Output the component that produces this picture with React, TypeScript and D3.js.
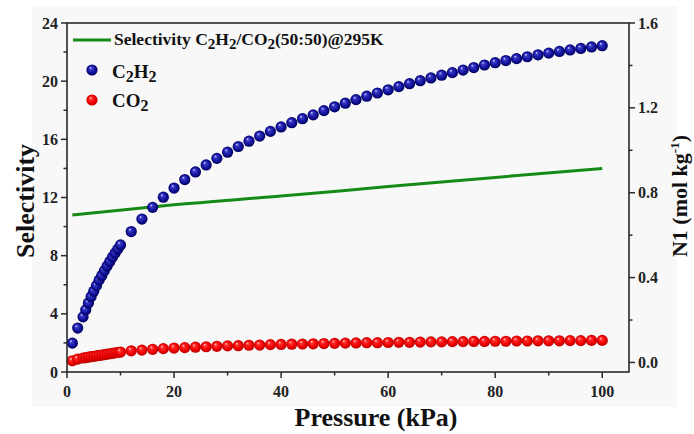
import React from "react";
import * as d3 from "d3";

const pressure = [1, 2, 3, 3.5, 4, 4.5, 5, 5.5, 6, 6.5, 7, 7.5, 8, 8.5, 9, 9.5, 10,
  12, 14, 16, 18, 20, 22, 24, 26, 28, 30, 32, 34, 36, 38, 40, 42, 44, 46, 48, 50,
  52, 54, 56, 58, 60, 62, 64, 66, 68, 70, 72, 74, 76, 78, 80, 82, 84, 86, 88, 90,
  92, 94, 96, 98, 100];

const c2h2 = [0.091, 0.162, 0.215, 0.248, 0.28, 0.31, 0.336, 0.362, 0.388, 0.41, 0.433, 0.455, 0.476, 0.497, 0.516, 0.535, 0.554,
  0.617, 0.676, 0.731, 0.779, 0.822, 0.862, 0.898, 0.931, 0.962, 0.991, 1.018, 1.043, 1.067, 1.089, 1.11, 1.13, 1.149, 1.167, 1.187, 1.205,
  1.222, 1.239, 1.255, 1.27, 1.285, 1.3, 1.314, 1.328, 1.341, 1.354, 1.366, 1.378, 1.39, 1.402, 1.413, 1.423, 1.432, 1.441, 1.45, 1.458,
  1.466, 1.473, 1.48, 1.487, 1.493];

const co2 = [0.008, 0.016, 0.021, 0.023, 0.025, 0.027, 0.029, 0.031, 0.033, 0.035, 0.037, 0.039, 0.041, 0.043, 0.045, 0.047, 0.049,
  0.055, 0.058, 0.062, 0.065, 0.068, 0.07, 0.072, 0.074, 0.076, 0.078, 0.079, 0.081, 0.082, 0.084, 0.085, 0.086, 0.087, 0.088, 0.089, 0.09,
  0.091, 0.092, 0.093, 0.093, 0.094, 0.095, 0.095, 0.096, 0.097, 0.097, 0.098, 0.098, 0.099, 0.099, 0.1, 0.1, 0.101, 0.101, 0.102, 0.102,
  0.102, 0.103, 0.103, 0.104, 0.104];

const selPressure = [1, 20, 40, 60, 80, 100];
const selectivity = [10.8, 11.5, 12.1, 12.75, 13.38, 14.0];

const xTicks = [0, 20, 40, 60, 80, 100];
const xMinor = [10, 30, 50, 70, 90];
const yLeftTicks = [0, 4, 8, 12, 16, 20, 24];
const yLeftMinor = [2, 6, 10, 14, 18, 22];
const yRightTicks = [0, 0.4, 0.8, 1.2, 1.6];
const yRightMinor = [0.2, 0.6, 1.0, 1.4];

const FONT = "'Liberation Serif', 'Times New Roman', serif";

export default function App() {
  const W = 694, H = 434;
  const left = 67, right = 629, top = 23, bottom = 372;
  const x = d3.scaleLinear().domain([0, 105]).range([left, right]);
  const yL = d3.scaleLinear().domain([0, 24]).range([bottom, top]);
  const yR = d3.scaleLinear().domain([-0.045, 1.6]).range([bottom, top]);

  const selLine = d3.line<number>()
    .x((_, i) => x(selPressure[i]))
    .y((d) => yL(d))
    .curve(d3.curveMonotoneX)(selectivity);

  const r = 5.6;
  const axisColor = "#2a2a2a";

  return (
    <svg width={W} height={H} style={{ position: "absolute", left: 0, top: 0 }} fontFamily={FONT}>
      <defs>
        <radialGradient id="gBlue" cx="50%" cy="50%" r="50%" fx="35%" fy="30%">
          <stop offset="0%" stopColor="#e0e0ff" />
          <stop offset="25%" stopColor="#3a3ac8" />
          <stop offset="70%" stopColor="#10109a" />
          <stop offset="100%" stopColor="#000058" />
        </radialGradient>
        <radialGradient id="gRed" cx="50%" cy="50%" r="50%" fx="35%" fy="30%">
          <stop offset="0%" stopColor="#ffe0e0" />
          <stop offset="25%" stopColor="#ff3030" />
          <stop offset="70%" stopColor="#f00000" />
          <stop offset="100%" stopColor="#b80000" />
        </radialGradient>
      </defs>
      <rect x={0} y={0} width={W} height={H} fill="#ffffff" />
      <rect x={32} y={6} width={645} height={401} fill="#f8f8f8" />

      {/* green selectivity line */}
      <path d={selLine || ""} fill="none" stroke="#168a16" strokeWidth={3} />

      {/* C2H2 points */}
      {pressure.map((p, i) => (
        <circle key={"b" + i} cx={x(p)} cy={yR(c2h2[i])} r={r} fill="url(#gBlue)" />
      ))}
      {/* CO2 points */}
      {pressure.map((p, i) => (
        <circle key={"r" + i} cx={x(p)} cy={yR(co2[i])} r={r} fill="url(#gRed)" />
      ))}

      {/* frame */}
      <rect x={left} y={top} width={right - left} height={bottom - top} fill="none" stroke={axisColor} strokeWidth={1.6} />

      {/* x ticks */}
      {xTicks.map((t) => (
        <g key={"xt" + t}>
          <line x1={x(t)} x2={x(t)} y1={bottom} y2={bottom + 6} stroke={axisColor} strokeWidth={1.5} />
          <text x={x(t)} y={397} textAnchor="middle" fontSize={16} fontWeight="bold" fill="#222">{t}</text>
        </g>
      ))}
      {xMinor.map((t) => (
        <line key={"xm" + t} x1={x(t)} x2={x(t)} y1={bottom} y2={bottom + 3.5} stroke={axisColor} strokeWidth={1.5} />
      ))}

      {/* left ticks */}
      {yLeftTicks.map((t) => (
        <g key={"yl" + t}>
          <line x1={left - 6} x2={left} y1={yL(t)} y2={yL(t)} stroke={axisColor} strokeWidth={1.5} />
          <text x={left - 9} y={yL(t) + 5.5} textAnchor="end" fontSize={16} fontWeight="bold" fill="#222">{t}</text>
        </g>
      ))}
      {yLeftMinor.map((t) => (
        <line key={"ylm" + t} x1={left - 3.5} x2={left} y1={yL(t)} y2={yL(t)} stroke={axisColor} strokeWidth={1.5} />
      ))}

      {/* right ticks */}
      {yRightTicks.map((t) => (
        <g key={"yr" + t}>
          <line x1={right} x2={right + 6} y1={yR(t)} y2={yR(t)} stroke={axisColor} strokeWidth={1.5} />
          <text x={right + 9} y={yR(t) + 5.5} textAnchor="start" fontSize={16} fontWeight="bold" fill="#222">{t.toFixed(1)}</text>
        </g>
      ))}
      {yRightMinor.map((t) => (
        <line key={"yrm" + t} x1={right} x2={right + 3.5} y1={yR(t)} y2={yR(t)} stroke={axisColor} strokeWidth={1.5} />
      ))}

      {/* axis titles */}
      <text x={376} y={426} textAnchor="middle" fontSize={26} fontWeight="bold" fill="#111">Pressure (kPa)</text>
      <text transform={`translate(34, 201) rotate(-90)`} textAnchor="middle" fontSize={26} fontWeight="bold" fill="#111">Selectivity</text>
      <text transform={`translate(687, 196) rotate(-90)`} textAnchor="middle" fontSize={22} fontWeight="bold" fill="#111">
        N1 (mol kg<tspan dy={-8} fontSize={13}>-1</tspan><tspan dy={8}>)</tspan>
      </text>

      {/* legend */}
      <line x1={73} x2={111} y1={40} y2={40} stroke="#168a16" strokeWidth={3} />
      <text x={114} y={45} fontSize={17.5} fontWeight="bold" fill="#111">
        Selectivity C<tspan dy={4} fontSize={15}>2</tspan><tspan dy={-4}>H</tspan><tspan dy={4} fontSize={15}>2</tspan><tspan dy={-4}>/CO</tspan><tspan dy={4} fontSize={15}>2</tspan><tspan dy={-4}>(50:50)@295K</tspan>
      </text>
      <circle cx={92} cy={70} r={r} fill="url(#gBlue)" />
      <text x={112} y={78} fontSize={19} fontWeight="bold" fill="#111">
        C<tspan dy={4} fontSize={16}>2</tspan><tspan dy={-4}>H</tspan><tspan dy={4} fontSize={16}>2</tspan>
      </text>
      <circle cx={92} cy={100} r={r} fill="url(#gRed)" />
      <text x={112} y={107} fontSize={19} fontWeight="bold" fill="#111">
        CO<tspan dy={4} fontSize={16}>2</tspan>
      </text>
    </svg>
  );
}
